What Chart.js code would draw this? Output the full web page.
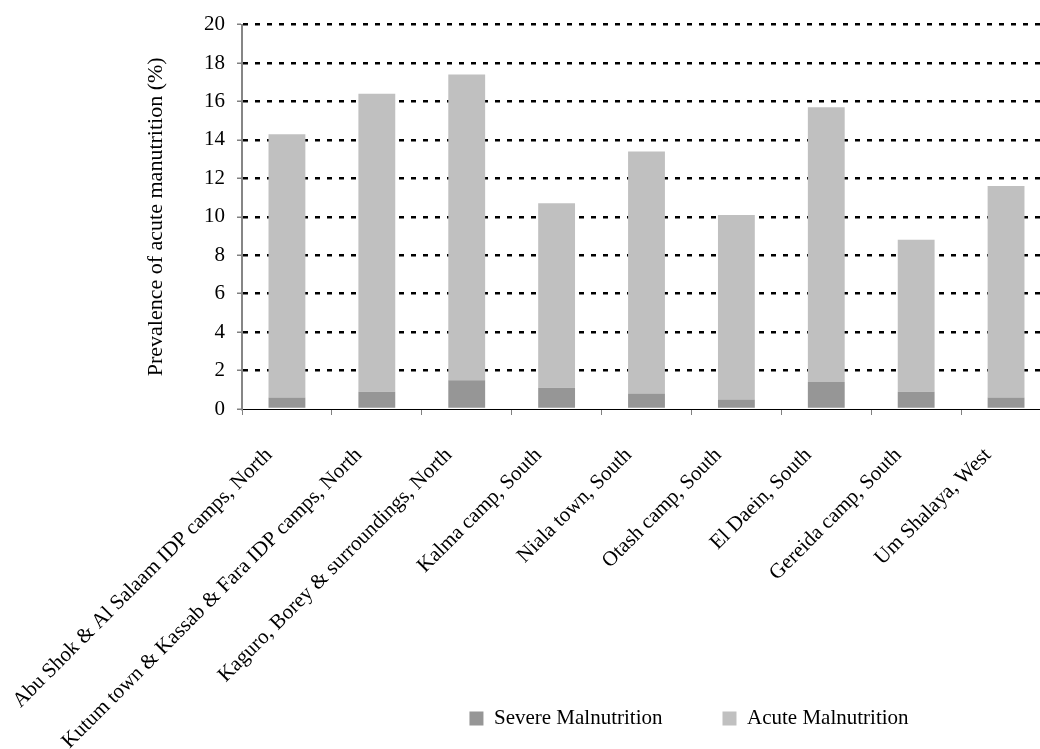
<!DOCTYPE html>
<html>
<head>
<meta charset="utf-8">
<title>Prevalence of acute malnutrition</title>
<script src="https://cdn.jsdelivr.net/npm/chart.js@4/dist/chart.umd.min.js"></script>
<style>
  html, body { margin: 0; padding: 0; background: #ffffff; overflow: hidden; }
  #wrap { width: 1060px; height: 749px; }
</style>
</head>
<body>
<div id="wrap"><canvas id="chart" width="1060" height="749"></canvas></div>
<script>
// Survey sites
const sites = [
  "Abu Shok & Al Salaam IDP camps, North",
  "Kutum town & Kassab & Fara IDP camps, North",
  "Kaguro, Borey & surroundings, North",
  "Kalma camp, South",
  "Niala town, South",
  "Otash camp, South",
  "El Daein, South",
  "Gereida camp, South",
  "Um Shalaya, West"
];

// Severe malnutrition (%), bottom segment
const severe = [0.6, 0.9, 1.5, 1.1, 0.8, 0.5, 1.4, 0.9, 0.6];

// Acute malnutrition (%), segment stacked on top of severe
const acute = [13.7, 15.5, 15.9, 9.6, 12.6, 9.6, 14.3, 7.9, 11.0];

// Value axis range and step
const yMin = 0;
const yMax = 20;
const yStep = 2;

const seriesNames = ["Severe Malnutrition", "Acute Malnutrition"];
const axisTitle = "Prevalence of acute manutrition (%)";

const FONT = "'Liberation Serif', 'Times New Roman', serif";
Chart.defaults.font.family = FONT;
Chart.defaults.font.size = 21;
Chart.defaults.color = "#000000";

// layout constants
const PLOT_BOTTOM = 409;
const LEGEND_CENTER_X = 719;
const LEGEND_ROW_TOP = 708;

// Puts the legend row under the right half of the plot and lets the
// category labels run down to the bottom edge of the canvas.
const legendPlacer = {
  id: "legendPlacer",
  afterLayout(chart) {
    const lg = chart.legend;
    if (lg) {
      const w = lg.right - lg.left;
      const h = lg.bottom - lg.top;
      const pad = lg.options.labels.padding;
      lg.left = LEGEND_CENTER_X - w / 2 - pad / 2;
      lg.right = lg.left + w;
      lg.top = LEGEND_ROW_TOP - pad;
      lg.bottom = lg.top + h;
    }
    const xs = chart.scales.x;
    if (xs) xs.bottom = chart.height;
  }
};

new Chart(document.getElementById("chart"), {
  type: "bar",
  data: {
    labels: sites,
    datasets: [
      {
        label: seriesNames[0],
        data: severe,
        backgroundColor: "#969696",
        borderWidth: 0
      },
      {
        label: seriesNames[1],
        data: acute,
        backgroundColor: "#c0c0c0",
        borderWidth: 0
      }
    ]
  },
  options: {
    responsive: false,
    animation: false,
    events: [],
    layout: { padding: { top: 22, right: 9, left: 0, bottom: 0 } },
    datasets: {
      bar: { categoryPercentage: 1.0, barPercentage: 0.41 }
    },
    plugins: {
      tooltip: { enabled: false },
      legend: {
        position: "bottom",
        labels: {
          boxWidth: 14,
          boxHeight: 14,
          padding: 60,
          color: "#000000",
          font: { family: FONT, size: 21 }
        }
      }
    },
    scales: {
      x: {
        stacked: true,
        afterFit(scale) {
          const lgH = (scale.chart.legend && scale.chart.legend.height) || 0;
          scale.height = scale.chart.height - PLOT_BOTTOM - lgH;
          scale.paddingLeft = 0;
          scale.paddingRight = 0;
        },
        grid: {
          display: true,
          offset: true,
          drawOnChartArea: false,
          drawTicks: true,
          tickLength: 6,
          color: "#808080",
          lineWidth: 1
        },
        border: { display: true, color: "#000000", width: 1 },
        ticks: {
          autoSkip: false,
          minRotation: 45,
          maxRotation: 45,
          padding: 28,
          labelOffset: -18,
          color: "#000000",
          font: { family: FONT, size: 21 }
        }
      },
      y: {
        stacked: true,
        min: yMin,
        max: yMax,
        afterFit(scale) { scale.width = 242; },
        ticks: {
          stepSize: yStep,
          padding: 12,
          color: "#000000",
          font: { family: FONT, size: 21 }
        },
        grid: {
          display: true,
          drawOnChartArea: true,
          drawTicks: true,
          tickLength: 5,
          lineWidth: 2.5,
          color: (ctx) => (ctx.tick && ctx.tick.value === yMin ? "rgba(0,0,0,0)" : "#000000"),
          tickColor: "#808080",
          tickWidth: 1.5,
          tickBorderDash: []
        },
        border: { display: true, color: "#868686", width: 2, dash: [5, 7] },
        title: {
          display: true,
          text: axisTitle,
          color: "#000000",
          font: { family: FONT, size: 22 },
          padding: { top: 143, bottom: 0 }
        }
      }
    }
  },
  plugins: [legendPlacer]
});
</script>
</body>
</html>
